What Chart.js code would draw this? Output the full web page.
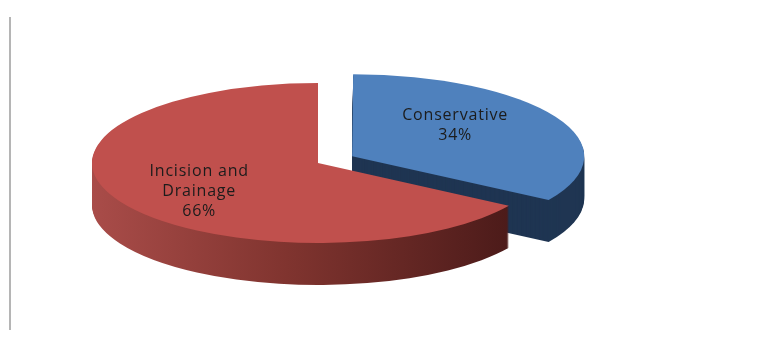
<!DOCTYPE html>
<html>
<head>
<meta charset="utf-8">
<title>Treatment split</title>
<script src="https://cdn.jsdelivr.net/npm/chart.js@4"></script>
<style>
  html, body { margin: 0; padding: 0; background: #fff; }
  #wrap { position: relative; width: 757px; height: 338px; }
  #edge { position: absolute; left: 9px; top: 17px; width: 2px; height: 313px; background: #b5b5b5; }
  canvas { position: absolute; left: 0; top: 0; }
</style>
</head>
<body>
<div id="wrap">
  <div id="edge"></div>
  <canvas id="pie" width="757" height="338"></canvas>
</div>
<script>
// data
const labels = ['Conservative', 'Incision and Drainage'];
const labelLines = [['Conservative'], ['Incision and', 'Drainage']];
const values = [34, 66];

// look of the fake 3D pie
const topColors = ['#4f81bd', '#c0504d'];
const explode = [156, 0];      // chart.js arc offset (moves by offset/4)
const TILT = 0.354;            // vertical squash of the pie
const DEPTH = 42;              // height of the side wall in px
const LABEL_RX = [0.52, 0.6];
const LABEL_RY = [0.8, 0.75];

function tilt(ctx, arc) {
  ctx.translate(0, arc.y);
  ctx.scale(1, TILT);
  ctx.translate(0, -arc.y);
}

function sideFill(ctx, i, arc) {
  if (i === 0) return '#1f3552';
  const g = ctx.createLinearGradient(arc.x - arc.outerRadius, 0, arc.x + arc.outerRadius * 0.92, 0);
  g.addColorStop(0, '#a94c49');
  g.addColorStop(0.45, '#80342f');
  g.addColorStop(1, '#481918');
  return g;
}

const pie3d = {
  id: 'pie3d',
  beforeDatasetsDraw(chart) {
    const ctx = chart.ctx;
    const arcs = chart.getDatasetMeta(0).data;
    arcs.forEach((arc, i) => {
      const fill = sideFill(ctx, i, arc);
      const ghost = Object.create(arc);
      ghost.options = Object.assign({}, arc.options, { backgroundColor: fill, borderWidth: 0 });
      for (let d = DEPTH; d > 0; d--) {
        ctx.save();
        ctx.translate(0, d);
        tilt(ctx, arc);
        arc.draw.call(ghost, ctx);
        ctx.restore();
      }
    });
    ctx.save();
    tilt(ctx, arcs[0]);
  },
  afterDatasetsDraw(chart) {
    const ctx = chart.ctx;
    ctx.restore();
    const arcs = chart.getDatasetMeta(0).data;
    const total = values.reduce((a, b) => a + b, 0);
    ctx.save();
    ctx.font = '16px "Open Sans", sans-serif';
    ctx.letterSpacing = '0.8px';
    ctx.fillStyle = '#1c1c1c';
    ctx.textAlign = 'center';
    ctx.textBaseline = 'middle';
    arcs.forEach((arc, i) => {
      const mid = (arc.startAngle + arc.endAngle) / 2;
      const shift = (arc.options.offset || 0) / 4;
      const cx = arc.x + Math.cos(mid) * (shift + arc.outerRadius * LABEL_RX[i]);
      const cy = arc.y + Math.sin(mid) * (shift + arc.outerRadius * LABEL_RY[i]) * TILT;
      const lines = labelLines[i].concat([Math.round(values[i] / total * 100) + '%']);
      const lh = 20;
      lines.forEach((t, k) => {
        ctx.fillText(t, cx, cy + (k - (lines.length - 1) / 2) * lh);
      });
    });
    ctx.restore();
  }
};

new Chart(document.getElementById('pie'), {
  type: 'pie',
  data: {
    labels: labels,
    datasets: [{
      data: values,
      backgroundColor: topColors,
      borderWidth: 0,
      offset: explode,
      radius: 226,
      clip: false
    }]
  },
  options: {
    responsive: false,
    devicePixelRatio: 1,
    animation: false,
    rotation: 0,
    layout: { padding: { left: 0, right: 121, top: 0, bottom: 12 } },
    plugins: {
      legend: { display: false },
      tooltip: { enabled: false }
    }
  },
  plugins: [pie3d]
});
</script>
</body>
</html>
